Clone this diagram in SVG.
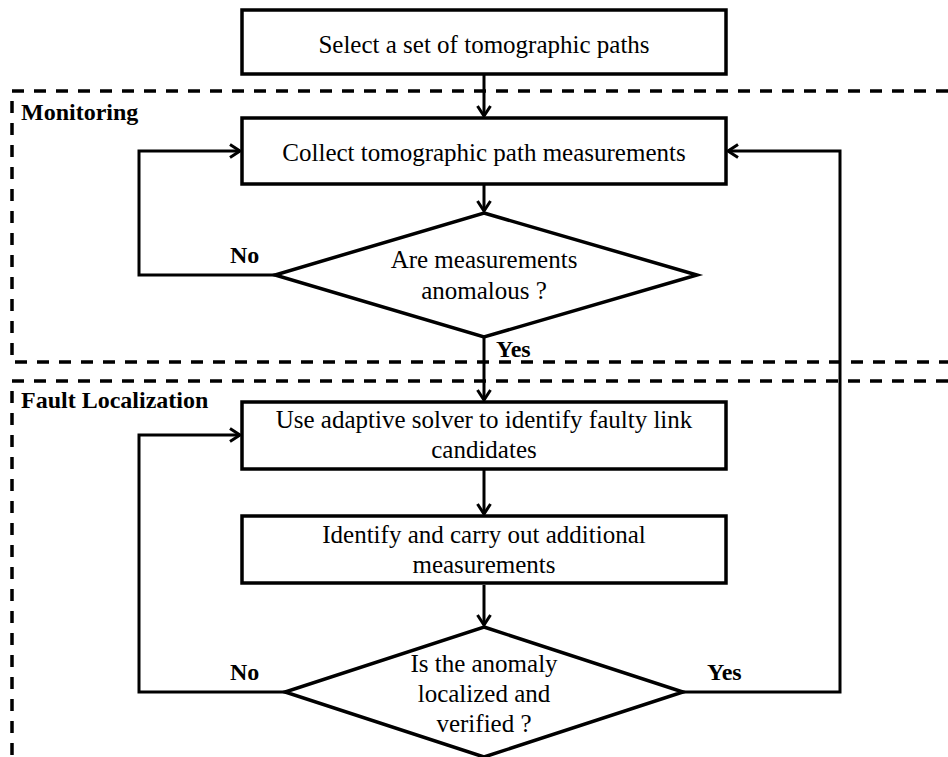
<svg xmlns="http://www.w3.org/2000/svg" width="948" height="757" viewBox="0 0 948 757">
  <defs>
    <style>
      .box { fill: #ffffff; stroke: #000000; stroke-width: 3.5; }
      .edge { fill: none; stroke: #000000; stroke-width: 3; }
      .zone { fill: none; stroke: #000000; stroke-width: 3.5; stroke-dasharray: 12 10; }
      .t { font-family: 'Liberation Serif', 'Times New Roman', Times, serif; font-size: 25px; font-weight: normal; fill: #000000; text-anchor: middle; }
      .lbl { font-family: 'Liberation Serif', 'Times New Roman', Times, serif; font-size: 24px; font-weight: bold; fill: #000000; }
    </style>
    <marker id="arrow" markerUnits="userSpaceOnUse" markerWidth="18" markerHeight="18" refX="13" refY="9" orient="auto">
      <path d="M3,2.5 L13,9 L3,15.5" fill="none" stroke="#000000" stroke-width="3"/>
    </marker>
  </defs>
  <rect width="948" height="757" fill="#ffffff"/>

  <!-- dashed phase regions -->
  <g id="zones">
    <path class="zone" d="M948,91 L12,91 L12,362 L948,362"/>
    <path class="zone" d="M948,381 L12,381 L12,757"/>
    <text class="lbl" x="21" y="120">Monitoring</text>
    <text class="lbl" x="21" y="408">Fault Localization</text>
  </g>

  <!-- connectors -->
  <g id="connectors">
    <line class="edge" x1="484" y1="75" x2="484" y2="116" marker-end="url(#arrow)"/>
    <line class="edge" x1="484" y1="185" x2="484" y2="211" marker-end="url(#arrow)"/>
    <line class="edge" x1="484" y1="338" x2="484" y2="400" marker-end="url(#arrow)"/>
    <line class="edge" x1="484" y1="470" x2="484" y2="514" marker-end="url(#arrow)"/>
    <line class="edge" x1="484" y1="585" x2="484" y2="625" marker-end="url(#arrow)"/>
    <polyline class="edge" points="275,275 139,275 139,151 240,151" marker-end="url(#arrow)"/>
    <polyline class="edge" points="285,692 139,692 139,435 240,435" marker-end="url(#arrow)"/>
    <polyline class="edge" points="683,692 840,692 840,151 728,151" marker-end="url(#arrow)"/>
    <text class="lbl" x="230" y="263">No</text>
    <text class="lbl" x="496" y="357">Yes</text>
    <text class="lbl" x="230" y="680">No</text>
    <text class="lbl" x="707" y="680">Yes</text>
  </g>

  <g id="select-paths">
    <rect class="box" x="242" y="10" width="484" height="64"/>
    <text class="t" x="484" y="53">Select a set of tomographic paths</text>
  </g>

  <g id="collect-measurements">
    <rect class="box" x="242" y="118" width="484" height="66"/>
    <text class="t" x="484" y="161">Collect tomographic path measurements</text>
  </g>

  <g id="anomalous-check">
    <polygon class="box" points="484,213 697,275 484,337 275,275"/>
    <text class="t" x="484" y="268">Are measurements</text>
    <text class="t" x="484" y="299">anomalous ?</text>
  </g>

  <g id="adaptive-solver">
    <rect class="box" x="242" y="402" width="484" height="67"/>
    <text class="t" x="484" y="428">Use adaptive solver to identify faulty link</text>
    <text class="t" x="484" y="458">candidates</text>
  </g>

  <g id="extra-measurements">
    <rect class="box" x="242" y="516" width="484" height="67"/>
    <text class="t" x="484" y="543">Identify and carry out additional</text>
    <text class="t" x="484" y="573">measurements</text>
  </g>

  <g id="localized-check">
    <polygon class="box" points="484,627 683,692 484,757 285,692"/>
    <text class="t" x="484" y="672">Is the anomaly</text>
    <text class="t" x="484" y="702">localized and</text>
    <text class="t" x="484" y="732">verified ?</text>
  </g>
</svg>
